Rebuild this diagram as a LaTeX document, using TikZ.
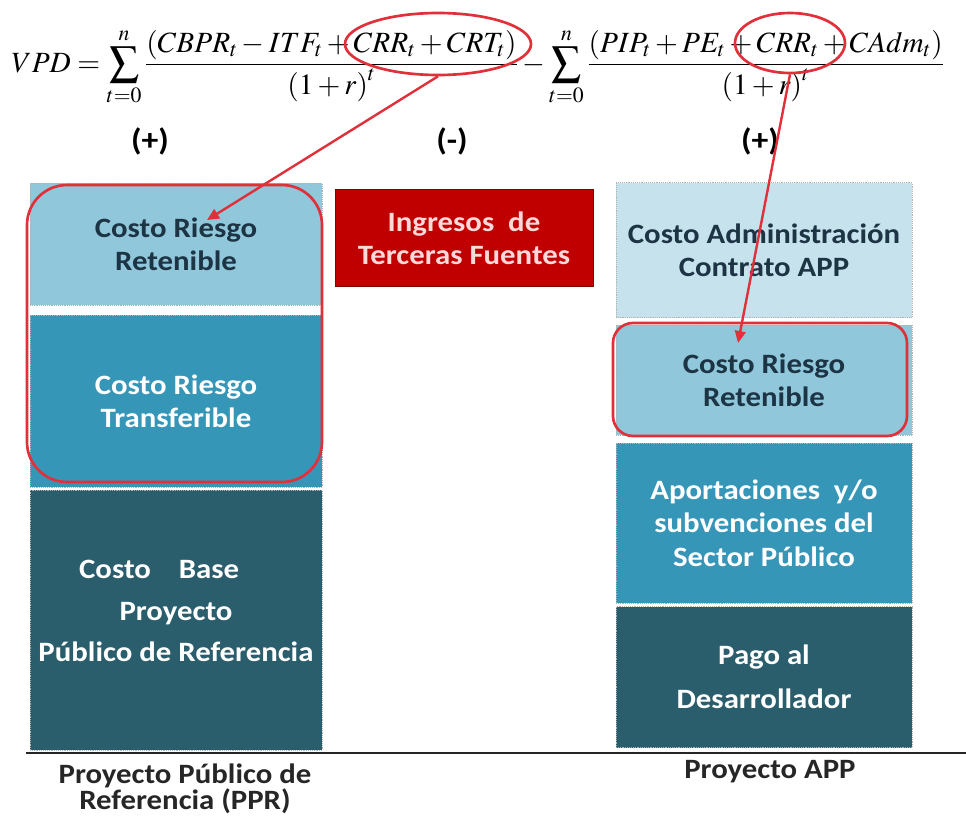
\documentclass[tikz,border=0pt]{standalone}
\usepackage{mathptmx}
\usepackage[no-math]{fontspec}
\setmainfont{Carlito}[FakeStretch=1.1]
\usetikzlibrary{positioning,shapes.geometric,arrows.meta}

\definecolor{celeste}{HTML}{C6E2EC}
\definecolor{azulclaro}{HTML}{90C7DA}
\definecolor{azulmedio}{HTML}{3696B8}
\definecolor{azuloscuro}{HTML}{2B5E6C}
\definecolor{guinda}{HTML}{C00000}
\definecolor{marcorojo}{HTML}{E0303A}
\definecolor{tinta}{HTML}{1C3444}

\tikzset{
	caja/.style={draw=gray!60,densely dotted,font=\bfseries\fontsize{21}{25}\selectfont,align=center,inner sep=0pt},
	marco/.style={draw=marcorojo,line width=2pt,rounded corners=#1},
	marca/.style={draw=marcorojo,line width=2pt,ellipse,inner sep=0pt},
	flecha/.style={draw=marcorojo,line width=1.8pt,-{Triangle[length=9pt,width=8pt]}},
	signo/.style={font=\bfseries\fontsize{23}{26}\selectfont},
	pie/.style={font=\bfseries\fontsize{21}{19.5}\selectfont,align=center,text=black!85}
}

\begin{document}
\begin{tikzpicture}[x=0.75pt,y=-0.75pt]
\useasboundingbox (0,0) rectangle (966,817);

% formula
\node (vpd) at (478,67) {\fontsize{22}{26}\selectfont$\displaystyle VPD=\sum_{t=0}^{n}\frac{\left(CBPR_t-ITF_t+CRR_t+CRT_t\right)}{\left(1+r\right)^t}-\sum_{t=0}^{n}\frac{\left(PIP_t+PE_t+CRR_t+CAdm_t\right)}{\left(1+r\right)^t}$};
\node[signo] (s1) at (150,141) {(+)};
\node[signo] (s2) at (452,141) {(-)};
\node[signo] (s3) at (760,141) {(+)};

% PPR column
\node[caja,fill=azulclaro,text=tinta,minimum width=219pt,minimum height=91.5pt] (lr) at (176,244) {Costo Riesgo\\Retenible};
\node[caja,fill=azulmedio,text=white,minimum width=219pt,minimum height=129pt] (lt) at (176,401) {Costo Riesgo\\Transferible};
\node[caja,fill=azuloscuro,text=white,minimum width=219pt,minimum height=195pt] (lb) at (176,620) {Costo\quad Base\hspace*{1.2em}\\[6pt]Proyecto\\[6pt]Público de Referencia\\[-11.5pt]\mbox{}};

% third party income
\node[draw=guinda!70!black,fill=guinda,text=red!15,font=\bfseries\fontsize{21}{25}\selectfont,align=center,minimum width=193.5pt,minimum height=72.75pt] (itf) at (464,238) {Ingresos\ \ de\\Terceras Fuentes};

% APP column
\node[caja,fill=celeste,text=tinta,minimum width=222pt,minimum height=101.25pt] (ra) at (764,250) {Costo Administración\\Contrato APP};
\node[caja,fill=azulclaro,text=tinta,minimum width=222pt,minimum height=82.5pt] (rr) at (764,380) {Costo Riesgo\\Retenible};
\node[caja,fill=azulmedio,text=white,minimum width=222pt,minimum height=120pt] (rs) at (764,523) {Aportaciones\ \ y/o\\subvenciones del\\Sector Público};
\node[caja,fill=azuloscuro,text=white,minimum width=222pt,minimum height=105.75pt] (rp) at (764,677) {Pago al\\[8pt]Desarrollador};

% red frames
\node[marco=30pt,minimum width=221.25pt,minimum height=222.75pt] (fl) at (174.5,333.5) {};
\node[marco=15pt,minimum width=220.5pt,minimum height=84.75pt] (fr) at (760,379.5) {};

% ground line and captions
\coordinate (g1) at (26,753);
\coordinate (g2) at (966,753);
\draw[line width=2.2pt,black!85] (g1)--(g2);
\node[pie] (ppr) at (185,789) {Proyecto Público de\\Referencia (PPR)};
\node[pie] (app) at (770,772) {Proyecto APP};

% circled terms and arrows
\node[marca,minimum width=139.5pt,minimum height=46.5pt] (e1) at (438,44) {};
\node[marca,minimum width=82.5pt,minimum height=45pt] (e2) at (790,43) {};
\coordinate (t1) at (207,220);
\coordinate (t2) at (738,343);
\draw[flecha] (e1.south)--(t1);
\draw[flecha] (e2.south)--(t2);

\end{tikzpicture}
\end{document}
